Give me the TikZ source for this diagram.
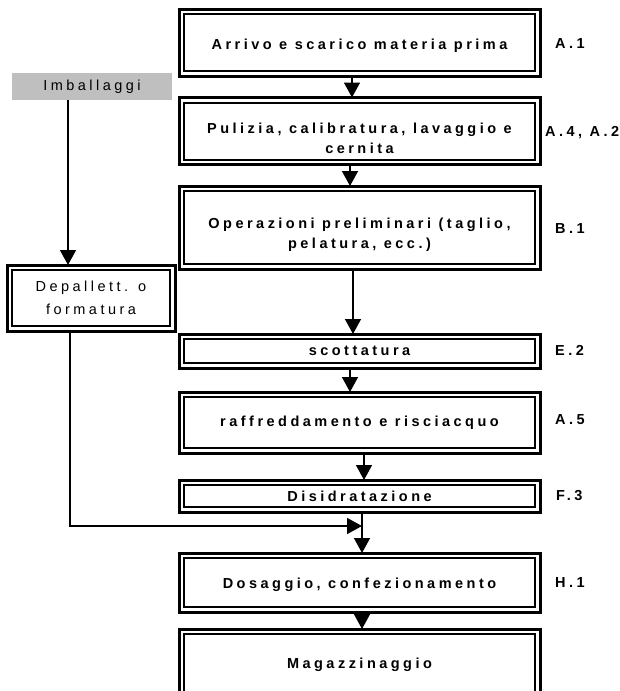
\documentclass[tikz,border=0pt]{standalone}
\usepackage{fontspec}
\setmainfont{Liberation Sans}
\newfontfamily\trackedfont[LetterSpace=24]{Liberation Sans}
\usetikzlibrary{arrows.meta}
\begin{document}
\begin{tikzpicture}[x=1pt,y=-1pt,
  frame/.style={draw, line width=3pt, rectangle, outer sep=0pt, inner sep=0pt,
    align=center, font=\trackedfont\bfseries\fontsize{14.5}{20}\selectfont},
  inner/.style={draw, line width=2pt},
  sidebox/.style={frame, font=\trackedfont\fontsize{14.5}{23}\selectfont},
  supply/.style={fill=black!25, outer sep=0pt, inner sep=0pt,
    font=\trackedfont\fontsize{14.5}{16}\selectfont},
  code/.style={anchor=west, inner sep=0pt, font=\trackedfont\bfseries\fontsize{14.5}{16}\selectfont},
  flow/.style={line width=1.5pt, -{Triangle[length=15pt,width=16pt]}},
  wire/.style={line width=1.5pt}]
\useasboundingbox (0,0) rectangle (619,691);
\clip (0,0) rectangle (619,691);

% main process chain
\node[frame, minimum width=361, minimum height=67, text height=13.5pt, text depth=0pt] (b1) at (359.5,42.5) {Arrivo e scarico materia prima};
\node[frame, minimum width=361, minimum height=67, text height=44pt, text depth=0pt] (b2) at (359.5,131) {Pulizia, calibratura, lavaggio e\\cernita};
\node[frame, minimum width=361, minimum height=83, text height=42pt, text depth=0pt] (b3) at (359.5,227.5) {Operazioni preliminari (taglio,\\pelatura, ecc.)};
\node[frame, minimum width=361, minimum height=34] (b4) at (359.5,351) {scottatura};
\node[frame, minimum width=361, minimum height=61] (b5) at (359.5,422.5) {raffreddamento e risciacquo};
\node[frame, minimum width=361, minimum height=32] (b6) at (359.5,496) {Disidratazione};
\node[frame, minimum width=361, minimum height=59, text height=11.5pt, text depth=0pt] (b7) at (359.5,582.5) {Dosaggio, confezionamento};
\node[frame, minimum width=361, minimum height=68, text height=11.5pt, text depth=0pt] (b8) at (359.5,663) {Magazzinaggio};

% packaging branch
\node[supply, minimum width=160, minimum height=27] (imb) at (92,86.5) {Imballaggi};
\node[sidebox, minimum width=168, minimum height=66] (dep) at (91,298) {Depallett. o\\formatura};

% inner frame lines
\foreach \n in {b1,b2,b3,b4,b5,b6,b7,b8,dep}
  \draw[inner] ([shift={(5pt,-5pt)}]\n.north west) rectangle ([shift={(-5pt,5pt)}]\n.south east);

% phase codes
\node[code] (c1) at (555,44) {A.1};
\node[code] (c2) at (545,133) {A.4, A.2};
\node[code] (c3) at (555,229) {B.1};
\node[code] (c4) at (555,350) {E.2};
\node[code] (c5) at (555,420) {A.5};
\node[code] (c6) at (556,496) {F.3};
\node[code] (c7) at (555,583) {H.1};

% connectors
\draw[flow] ([xshift=-7.5pt]b1.south) -- ([xshift=-7.5pt]b2.north);
\draw[flow] ([xshift=-9.5pt]b2.south) -- ([xshift=-9.5pt]b3.north);
\draw[flow] ([xshift=-6.5pt]b3.south) -- ([xshift=-6.5pt]b4.north);
\draw[flow] ([xshift=-9.5pt]b4.south) -- ([xshift=-9.5pt]b5.north);
\draw[flow] ([xshift=4.5pt]b5.south) -- ([xshift=4.5pt]b6.north);
\draw[flow] ([xshift=2.5pt]b6.south) -- ([xshift=2.5pt]b7.north);
\draw[flow] ([xshift=2.5pt]b7.south) -- ([xshift=2.5pt]b8.north);

\draw[flow] ([xshift=-24pt]imb.south) -- ([xshift=-23pt]dep.north);
\coordinate (merge) at (362,526);
\draw[flow] ([xshift=-21pt]dep.south) |- (merge);
\end{tikzpicture}
\end{document}
